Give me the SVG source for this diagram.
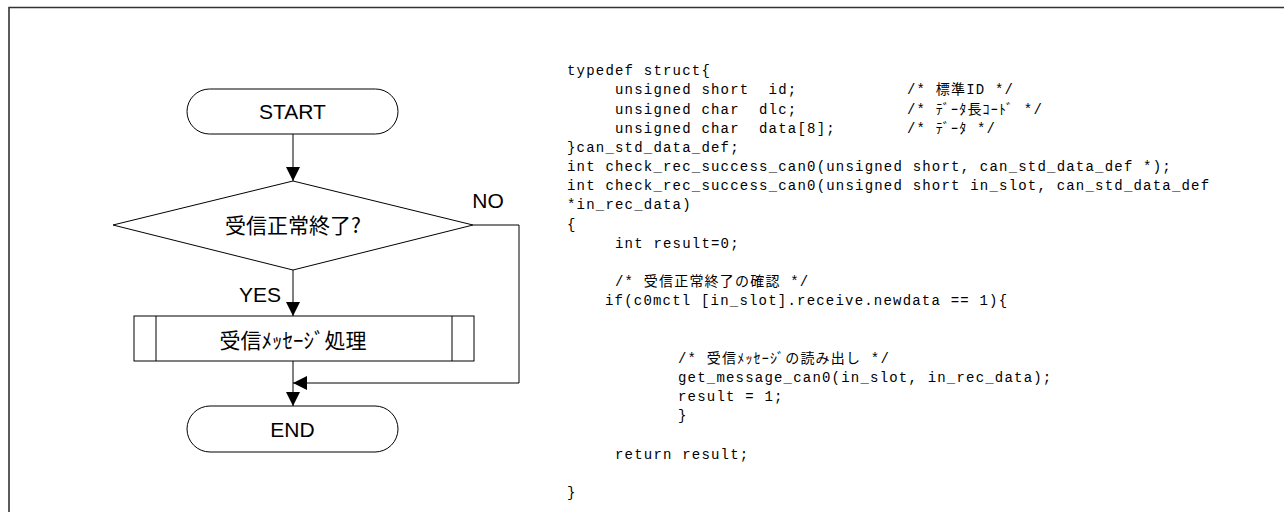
<svg xmlns="http://www.w3.org/2000/svg" width="1284" height="512" viewBox="0 0 1284 512">
<style>
.shape{fill:#fff;stroke:#000;stroke-width:1}
.line{fill:none;stroke:#000;stroke-width:1}
.lbl{font-family:"Liberation Sans","Noto Sans CJK JP",sans-serif;font-size:21px;fill:#000}
.cjk{font-family:"Noto Sans CJK JP",sans-serif;font-size:21px;fill:#000}
.code{font-family:"Liberation Mono","Noto Sans CJK JP",monospace;font-size:14px;letter-spacing:1.2px;fill:#000;white-space:pre}
</style>
<defs>
<marker id="ah" markerUnits="userSpaceOnUse" markerWidth="14" markerHeight="16" viewBox="0 0 14 16" refX="14" refY="8" orient="auto">
<path d="M0,1 L14,8 L0,15 Z" fill="#000"/>
</marker>
</defs>
<rect width="1284" height="512" fill="#fff"/>
<path d="M9,512 V7.5 H1284" fill="none" stroke="#333" stroke-width="1.6"/>

<g id="connectors">
<line class="line" x1="293" y1="134" x2="293" y2="181" marker-end="url(#ah)"/>
<line class="line" x1="293" y1="270" x2="293" y2="316" marker-end="url(#ah)"/>
<line class="line" x1="293" y1="361" x2="293" y2="406" marker-end="url(#ah)"/>
<polyline class="line" points="473,225 519,225 519,383 293,383" marker-end="url(#ah)"/>
<text class="lbl" x="488" y="208" text-anchor="middle">NO</text>
<text class="lbl" x="260" y="302" text-anchor="middle">YES</text>
</g>

<g id="start">
<rect class="shape" x="187" y="89" width="211" height="45" rx="22.5" ry="22.5"/>
<text class="lbl" x="292.5" y="119" text-anchor="middle">START</text>
</g>

<g id="decision">
<polygon class="shape" points="293,181 473,225 293,270 113,225"/>
<text class="cjk" x="293" y="233" text-anchor="middle">受信正常終了?</text>
</g>

<g id="process">
<rect class="shape" x="134" y="316" width="340" height="45"/>
<line class="line" x1="156" y1="316" x2="156" y2="361"/>
<line class="line" x1="452" y1="316" x2="452" y2="361"/>
<text class="cjk" x="293" y="348" text-anchor="middle">受信ﾒｯｾｰｼﾞ処理</text>
</g>

<g id="end">
<rect class="shape" x="187" y="406" width="211" height="46" rx="23" ry="23"/>
<text class="lbl" x="292.5" y="436.5" text-anchor="middle">END</text>
</g>

<g id="code">
<text class="code" x="567" y="75.2">typedef struct{</text>
<text class="code" x="615" y="94.4">unsigned short  id;</text>
<text class="code" x="907" y="94.4">/* 標準ID */</text>
<text class="code" x="615" y="113.5">unsigned char  dlc;</text>
<text class="code" x="907" y="113.5">/* ﾃﾞｰﾀ長ｺｰﾄﾞ */</text>
<text class="code" x="615" y="132.7">unsigned char  data[8];</text>
<text class="code" x="907" y="132.7">/* ﾃﾞｰﾀ */</text>
<text class="code" x="567" y="151.9">}can_std_data_def;</text>
<text class="code" x="567" y="171">int check_rec_success_can0(unsigned short, can_std_data_def *);</text>
<text class="code" x="567" y="190.2">int check_rec_success_can0(unsigned short in_slot, can_std_data_def</text>
<text class="code" x="567" y="209.4">*in_rec_data)</text>
<text class="code" x="567" y="228.5">{</text>
<text class="code" x="615" y="247.7">int result=0;</text>
<text class="code" x="615" y="286.1">/* 受信正常終了の確認 */</text>
<text class="code" x="605" y="305.2">if(c0mctl [in_slot].receive.newdata == 1){</text>
<text class="code" x="678" y="362.7">/* 受信ﾒｯｾｰｼﾞの読み出し */</text>
<text class="code" x="678" y="381.9">get_message_can0(in_slot, in_rec_data);</text>
<text class="code" x="678" y="401.1">result = 1;</text>
<text class="code" x="678" y="420.2">}</text>
<text class="code" x="615" y="458.6">return result;</text>
<text class="code" x="567" y="497">}</text>
</g>
</svg>
